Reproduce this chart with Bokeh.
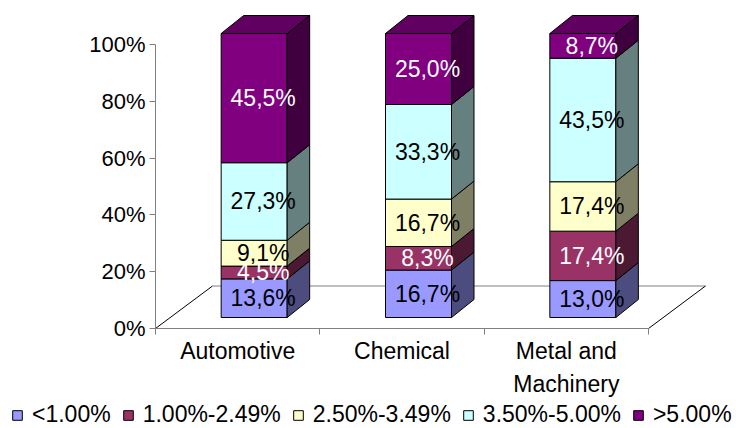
from bokeh.plotting import figure
from bokeh.models import Range1d, FixedTicker, ColumnDataSource
from bokeh.core.properties import value
from bokeh.embed import file_html
from bokeh.resources import INLINE

# ---------------- data ----------------
categories = ["Automotive", "Chemical", "Metal and\nMachinery"]
series_names = ["<1.00%", "1.00%-2.49%", "2.50%-3.49%", "3.50%-5.00%", ">5.00%"]
below_1_00 = [13.6, 16.7, 13.0]
from_1_00_to_2_49 = [4.5, 8.3, 17.4]
from_2_50_to_3_49 = [9.1, 16.7, 17.4]
from_3_50_to_5_00 = [27.3, 33.3, 43.5]
above_5_00 = [45.5, 25.0, 8.7]
y_ticks = [0, 20, 40, 60, 80, 100]
y_tick_labels = ["0%", "20%", "40%", "60%", "80%", "100%"]

series_values = [below_1_00, from_1_00_to_2_49, from_2_50_to_3_49, from_3_50_to_5_00, above_5_00]

# ---------------- styles ----------------
FONT = "Liberation Sans"
front_colors = ["#9999FF", "#993366", "#FFFFCC", "#CCFFFF", "#800080"]
label_colors = ["black", "white", "black", "black", "white"]


def shade(hex_color, f):
    h = hex_color.lstrip("#")
    r, g, b = (int(h[i:i + 2], 16) for i in (0, 2, 4))
    return "#%02X%02X%02X" % (int(r * f), int(g * f), int(b * f))


side_colors = [shade(c, 0.5) for c in front_colors]
top_colors = [shade(c, 0.75) for c in front_colors]

W, H = 736, 428
ORIGIN_X, ORIGIN_Y = 155, 328     # pixel position of (0, 0%) on the canvas
SX = 493.0 / 3.0   # px per category
SY = 2.84          # px per percent


def px_x(d):
    return d / SX


def px_y(d):
    return d / SY


p = figure(width=W, height=H,
           x_range=Range1d(-ORIGIN_X / SX, (W - ORIGIN_X) / SX),
           y_range=Range1d(-(H - ORIGIN_Y) / SY, ORIGIN_Y / SY),
           output_backend="svg", toolbar_location=None,
           min_border_left=0, min_border_right=0,
           min_border_top=0, min_border_bottom=0)
p.outline_line_color = None
p.xgrid.visible = False
p.ygrid.visible = False
p.background_fill_color = "white"
p.border_fill_color = "white"

n_cat = len(categories)

# ---------------- floor ----------------
fdx, fdy = px_x(57), px_y(42.5)
p.patch([0, n_cat, n_cat + fdx, fdx], [0, 0, fdy, fdy], fill_color="white", line_color=None)
p.segment(x0=[fdx], y0=[fdy], x1=[n_cat + fdx], y1=[fdy], line_color="#808080", line_width=1)
p.segment(x0=[0, n_cat], y0=[0, 0], x1=[fdx, n_cat + fdx], y1=[fdy, fdy], line_color="black", line_width=1)

# ---------------- bars ----------------
off_x, off_y = px_x(16.5), px_y(11)
half_w = px_x(33)
ddx, ddy = px_x(22.5), px_y(18)

side_xs, side_ys, side_fill = [], [], []
top_xs, top_ys, top_fill = [], [], []
lab_x, lab_y, lab_t, lab_c = [], [], [], []

cum = [0.0] * n_cat
for s, vals in enumerate(series_values):
    lefts, rights, bottoms, tops = [], [], [], []
    for i in range(n_cat):
        xc = i + 0.5 + off_x
        xl, xr = xc - half_w, xc + half_w
        b = off_y + cum[i]
        t = off_y + cum[i] + vals[i]
        lefts.append(xl)
        rights.append(xr)
        bottoms.append(b)
        tops.append(t)
        side_xs.append([xr, xr + ddx, xr + ddx, xr])
        side_ys.append([b, b + ddy, t + ddy, t])
        side_fill.append(side_colors[s])
        if s == len(series_values) - 1:
            top_xs.append([xl, xl + ddx, xr + ddx, xr])
            top_ys.append([t, t + ddy, t + ddy, t])
            top_fill.append(top_colors[s])
        lab_x.append(xc + px_x(9))
        lab_y.append((b + t) / 2)
        lab_t.append(("%.1f" % vals[i]).replace(".", ",") + "%")
        lab_c.append(label_colors[s])
        cum[i] += vals[i]
    p.quad(left=lefts, right=rights, bottom=bottoms, top=tops,
           fill_color=front_colors[s], line_color="black", line_width=1,
           legend_label=series_names[s])

p.patches(side_xs, side_ys, fill_color=side_fill, line_color="black", line_width=1)
p.patches(top_xs, top_ys, fill_color=top_fill, line_color="black", line_width=1)

lab_src = ColumnDataSource(dict(x=lab_x, y=lab_y, t=lab_t, c=lab_c))
p.text(x="x", y="y", text="t", text_color="c", source=lab_src,
       text_font=value(FONT), text_font_size="23px",
       text_align="center", text_baseline="middle")

# ---------------- axes (drawn at the data origin) ----------------
ya = p.yaxis[0]
ya.fixed_location = 0
ya.ticker = FixedTicker(ticks=y_ticks, minor_ticks=[])
ya.major_label_overrides = {t: l for t, l in zip(y_ticks, y_tick_labels)}
ya.bounds = (0, 100)
ya.axis_line_color = "#808080"
ya.major_tick_line_color = "#808080"
ya.major_tick_out = 6
ya.major_tick_in = 0
ya.minor_tick_line_color = None
ya.major_label_text_font = FONT
ya.major_label_text_font_size = "22px"
ya.major_label_text_color = "black"
ya.major_label_standoff = 4

xa = p.xaxis[0]
xa.fixed_location = 0
cat_pos = [i + 0.5 for i in range(n_cat)]
xa.ticker = FixedTicker(ticks=cat_pos, minor_ticks=list(range(n_cat + 1)))
xa.major_label_overrides = {c: l for c, l in zip(cat_pos, categories)}
xa.bounds = (0, n_cat)
xa.axis_line_color = "#808080"
xa.major_tick_line_color = None
xa.major_tick_out = 0
xa.major_tick_in = 0
xa.minor_tick_line_color = "#808080"
xa.minor_tick_out = 6
xa.minor_tick_in = 0
xa.major_label_text_font = FONT
xa.major_label_text_font_size = "23px"
xa.major_label_text_color = "black"
xa.major_label_text_line_height = 1.3
xa.major_label_standoff = 3

# ---------------- legend ----------------
lg = p.legend[0]
lg.orientation = "horizontal"
lg.location = (11, 0)
lg.padding = 0
lg.margin = 0
lg.spacing = 11
lg.glyph_width = 12
lg.glyph_height = 12
lg.label_standoff = 9
lg.label_text_font = FONT
lg.label_text_font_size = "23px"
lg.label_text_color = "black"
lg.border_line_color = None
lg.background_fill_alpha = 0

open("out.html", "w").write(file_html(p, INLINE))
